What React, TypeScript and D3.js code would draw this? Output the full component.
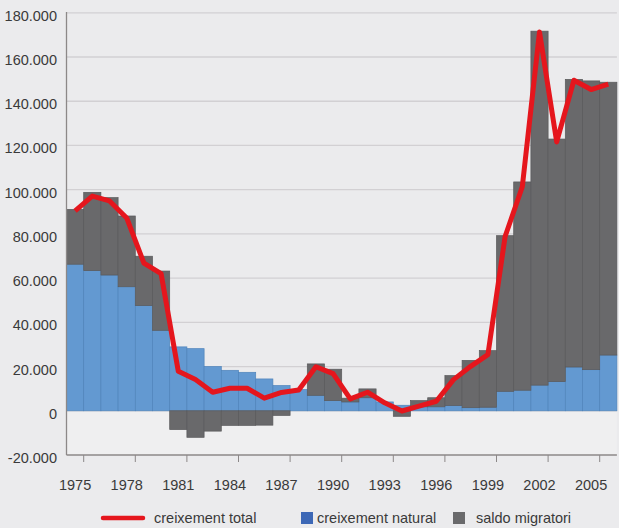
import React from "react";
import * as d3 from "d3";

const years = d3.range(1975, 2007);
const natural = [66300, 63400, 61400, 56100, 47600, 36400, 28900, 28100, 20000, 18300, 17400, 14400, 11400, 9600, 7000, 4600, 4000, 5900, 4000, 2500, 1800, 1800, 2400, 1400, 1600, 8800, 9300, 11600, 13200, 19800, 18600, 25200];
const migratori = [24800, 35400, 35000, 32000, 22300, 26800, -8500, -12000, -9200, -6600, -6600, -6500, -2100, 0, 14200, 14200, 1700, 4000, 0, -2500, 2800, 4100, 13500, 21400, 25600, 70400, 94200, 160100, 109700, 130100, 130600, 123400];
const total = [90400, 97100, 94900, 87200, 66800, 62000, 17900, 14100, 8400, 10200, 10200, 5700, 8300, 9400, 19900, 16800, 5400, 8400, 3600, -100, 2100, 4300, 14100, 20100, 25400, 78800, 101300, 171300, 121600, 149500, 145300, 147700];
const yTicks = [-20000, 0, 20000, 40000, 60000, 80000, 100000, 120000, 140000, 160000, 180000];
const xLabelYears = [1975, 1978, 1981, 1984, 1987, 1990, 1993, 1996, 1999, 2002, 2005];
const legendLabels = ["creixement total", "creixement natural", "saldo migratori"];

const W = 619, H = 528;
const BG = "#ebebed";
const BLUE = "#6399d1";
const GRAY = "#69696b";
const RED = "#e5161d";
const TEXT = "#3a3a3a";
const FONT = "'Liberation Sans', Arial, Helvetica, sans-serif";

const fmt = (v: number) => {
  if (v === 0) return "0";
  const s = d3.format(",")(v).replace(/,/g, ".");
  return s.replace("−", "-");
};

export default function App() {
  const x = d3.scaleBand<number>().domain(years).range([66.5, 616.9]).paddingInner(0).paddingOuter(0);
  const y = d3.scaleLinear().domain([-20000, 180000]).range([455, 12.8]);
  const bw = x.bandwidth();

  const rows = years.map((yr, i) => ({ year: yr, natural: natural[i], migratori: migratori[i] }));
  const stack = d3.stack<any>().keys(["natural", "migratori"]).offset(d3.stackOffsetDiverging);
  const series = stack(rows);
  const colors: Record<string, string> = { natural: BLUE, migratori: GRAY };
  const strokes: Record<string, string> = { natural: "#4f84bb", migratori: "#59595b" };

  const line = d3
    .line<number>()
    .x((_, i) => (x(years[i]) as number) + bw / 2)
    .y((d) => y(d));

  const x0 = 66.5, x1 = 616.9;
  const axisY = y(-20000);

  return (
    <svg width={W} height={H} style={{ position: "absolute", left: 0, top: 0 }} fontFamily={FONT}>
      <rect x={0} y={0} width={W} height={H} fill={BG} />
      <rect x={x0} y={y(0)} width={x1 - x0} height={y(-20000) - y(0)} fill="#efeff0" />
      {yTicks.filter((t) => t > -20000).map((t) => (
        <line key={t} x1={x0} x2={x1} y1={y(t)} y2={y(t)} stroke="#d2d0d3" strokeWidth={1.3} />
      ))}
      {series.map((s) => (
        <g key={s.key}>
          {s.map((d, i) => {
            const top = y(Math.max(d[0], d[1]));
            const bot = y(Math.min(d[0], d[1]));
            if (bot - top < 0.01) return null;
            return (
              <rect
                key={i}
                x={x(years[i])}
                y={top}
                width={bw}
                height={bot - top}
                fill={colors[s.key]}
                stroke={strokes[s.key]}
                strokeWidth={0.7}
              />
            );
          })}
        </g>
      ))}
      <path d={line(total) || ""} fill="none" stroke={RED} strokeWidth={5} strokeLinejoin="round" strokeLinecap="butt" />
      {/* axes */}
      <line x1={x0} x2={x0} y1={12} y2={axisY} stroke="#8c8888" strokeWidth={1.3} />
      <line x1={x0} x2={x1} y1={axisY} y2={axisY} stroke="#8c8888" strokeWidth={1.3} />
      {xLabelYears.map((yr) => {
        const tx = (x(yr) as number) + bw;
        return <line key={yr} x1={tx} x2={tx} y1={axisY} y2={axisY + 7} stroke="#8c8888" strokeWidth={1} />;
      })}
      {yTicks.map((t) => (
        <text key={t} x={57} y={y(t) + 8} textAnchor="end" fontSize={14.5} fill={TEXT}>
          {fmt(t)}
        </text>
      ))}
      {xLabelYears.map((yr) => (
        <text key={yr} x={(x(yr) as number) + bw / 2} y={490} textAnchor="middle" fontSize={14.5} fill={TEXT}>
          {yr}
        </text>
      ))}
      {/* legend */}
      <line x1={103} x2={143} y1={518} y2={518} stroke={RED} strokeWidth={4.5} strokeLinecap="round" />
      <text x={154} y={523} fontSize={14.5} fill={TEXT}>{legendLabels[0]}</text>
      <rect x={301} y={512} width={12} height={12} fill="#3d68b6" />
      <text x={317} y={523} fontSize={14.5} fill={TEXT}>{legendLabels[1]}</text>
      <rect x={453} y={512} width={12} height={12} fill="#6a6a6c" />
      <text x={476} y={523} fontSize={14.5} fill={TEXT}>{legendLabels[2]}</text>
    </svg>
  );
}
